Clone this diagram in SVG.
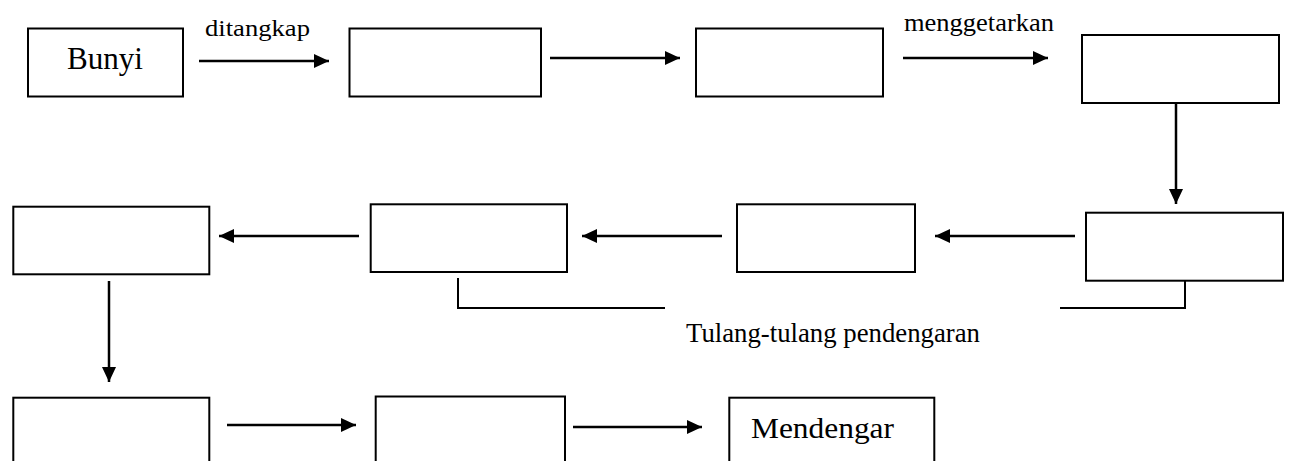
<svg xmlns="http://www.w3.org/2000/svg" width="1290" height="461" viewBox="0 0 1290 461">
<style>
.box{fill:#fff;stroke:#000;stroke-width:2}
.arr{fill:none;stroke:#000;stroke-width:2.5;marker-end:url(#ah)}
.br{fill:none;stroke:#000;stroke-width:2}
.t{font-family:"Liberation Serif","Times New Roman",serif;fill:#000}
</style>
<defs>
<marker id="ah" markerUnits="userSpaceOnUse" markerWidth="16" markerHeight="16" viewBox="0 0 16 16" refX="15" refY="8" orient="auto">
<path d="M0,1 L15,8 L0,15 Z" fill="#000"/>
</marker>
</defs>
<rect width="1290" height="461" fill="#fff"/>
<g id="connectors">
<line class="arr" x1="199" y1="61" x2="329" y2="61"/>
<line class="arr" x1="550" y1="58" x2="680" y2="58"/>
<line class="arr" x1="903" y1="58" x2="1048" y2="58"/>
<line class="arr" x1="1176" y1="103" x2="1176" y2="204"/>
<line class="arr" x1="1075" y1="236" x2="935" y2="236"/>
<line class="arr" x1="722" y1="236" x2="582" y2="236"/>
<line class="arr" x1="359" y1="236" x2="219" y2="236"/>
<line class="arr" x1="109" y1="281" x2="109" y2="382"/>
<line class="arr" x1="227" y1="425" x2="356" y2="425"/>
<line class="arr" x1="573" y1="427" x2="702" y2="427"/>
<polyline class="br" points="458,278 458,308 665,308"/>
<polyline class="br" points="1060,308 1185,308 1185,278"/>
<text class="t" x="205" y="36" font-size="23" textLength="105" lengthAdjust="spacingAndGlyphs">ditangkap</text>
<text class="t" x="904" y="31" font-size="25" textLength="150" lengthAdjust="spacingAndGlyphs">menggetarkan</text>
<text class="t" x="686" y="342" font-size="26.5" textLength="294" lengthAdjust="spacingAndGlyphs">Tulang-tulang pendengaran</text>
</g>
<g id="n1"><rect class="box" x="28" y="28.5" width="155" height="68"/><text class="t" x="67" y="69" font-size="31" textLength="76" lengthAdjust="spacingAndGlyphs">Bunyi</text></g>
<g id="n2"><rect class="box" x="349.5" y="28.5" width="191.5" height="68"/></g>
<g id="n3"><rect class="box" x="696" y="28.5" width="187" height="68"/></g>
<g id="n4"><rect class="box" x="1082" y="35" width="197" height="68"/></g>
<g id="n5"><rect class="box" x="1086" y="212.7" width="197" height="68"/></g>
<g id="n6"><rect class="box" x="737" y="204.3" width="178" height="67.7"/></g>
<g id="n7"><rect class="box" x="370.7" y="204.3" width="196.3" height="67.7"/></g>
<g id="n8"><rect class="box" x="13.3" y="206.7" width="196" height="67.6"/></g>
<g id="n9"><rect class="box" x="13.3" y="397.7" width="196" height="80"/></g>
<g id="n10"><rect class="box" x="375.7" y="396.5" width="189.3" height="80"/></g>
<g id="n11"><rect class="box" x="729.3" y="397.7" width="205" height="80"/><text class="t" x="751" y="438" font-size="30" textLength="143" lengthAdjust="spacingAndGlyphs">Mendengar</text></g>
</svg>
